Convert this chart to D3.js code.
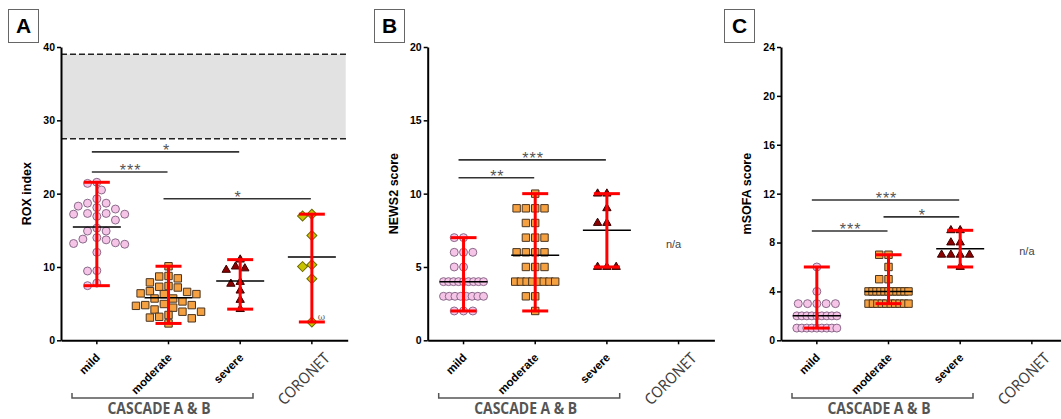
<!DOCTYPE html>
<html>
<head>
<meta charset="utf-8">
<script src="https://cdn.jsdelivr.net/npm/d3@7"></script>
<style>
  body { margin: 0; background: #fff; }
  svg { display: block; font-family: "Liberation Sans", Arial, sans-serif; }
</style>
</head>
<body>
<svg id="chart" width="1061" height="419"></svg>
<script>
const categories = ["mild", "moderate", "severe", "CORONET"];

// A - ROX index
const roxMild = [21.55, 21.4, 20.5, 19.3, 18.7, 18.3, 18.1, 17.9, 18.7, 17.2, 16.9, 17.3, 16.4, 17.2, 17.3,
                 15.3, 14.9, 14.9, 14.0, 13.7, 13.2, 13.3, 13.8, 13.1, 12.0, 9.5, 9.45, 7.8, 7.45];
const roxModerate = [10.1, 8.77, 8.45, 8.7, 7.3, 6.7, 6.6, 7.2, 7.4, 6.3, 7.9, 6.4, 6.3, 5.7, 5.7,
                     4.95, 4.8, 5.3, 4.8, 4.45, 4.7, 3.9, 3.9, 4.2, 3.2, 3.1, 3.0, 3.45, 2.3];
const roxSevere = [11.0, 10.05, 9.6, 9.8, 7.7, 7.95, 6.77, 5.5, 4.25];
const roxCoronet = [16.95, 17.2, 14.3, 10.05, 10.3, 8.4, 2.5];
const roxMedians = [15.45, 5.8, 8.1, 11.35];
const roxTicks = [0, 10, 20, 30, 40];
const roxReference = [27.5, 39];
const roxSig = [
  { a: 0, b: 2, v: 25.7, label: "*" },
  { a: 0, b: 1, v: 22.95, label: "***" },
  { a: 1, b: 3, v: 19.3, label: "*" }
];

// B - NEWS2 score
const newsMild = [7, 7, 6, 6, 6, 5, 5, 4, 4, 4, 4, 4, 4, 4, 4, 4, 3, 3, 3, 3, 3, 3, 3, 3, 2, 2, 2];
const newsModerate = [10, 9, 9, 9, 9, 8, 8, 7, 7, 7, 6, 6, 6, 6, 5, 5, 5, 4, 4, 4, 4, 4, 4, 4, 4, 3, 3, 2];
const newsSevere = [10, 10, 9, 8, 8, 5, 5, 5];
const newsMedians = [4, 5.8, 7.5, null];
const newsTicks = [0, 5, 10, 15, 20];
const newsSig = [
  { a: 0, b: 2, v: 12.3, label: "***" },
  { a: 0, b: 1, v: 11.08, label: "**" }
];

// C - mSOFA score
const sofaMild = [6, 4, 3, 3, 3, 3, 3, 2, 2, 2, 2, 2, 2, 2, 2, 2, 1, 1, 1, 1, 1, 1, 1, 1, 1];
const sofaModerate = [7, 7, 6, 5, 5, 4, 4, 4, 4, 4, 4, 4, 4, 4, 4, 4, 3, 3, 3, 3, 3, 3, 3, 3, 3, 3];
const sofaSevere = [9, 9, 8, 8, 7, 7, 7, 7, 6];
const sofaMedians = [2, 4, 7.5, null];
const sofaTicks = [0, 4, 8, 12, 16, 20, 24];
const sofaSig = [
  { a: 0, b: 2, v: 11.48, label: "***" },
  { a: 1, b: 2, v: 10.1, label: "*" },
  { a: 0, b: 1, v: 8.94, label: "***" }
];

const markers = [
  { type: d3.symbolCircle, size: 50, fill: "#f5c4e6", stroke: "#8a6a8a", rot: 0 },
  { type: d3.symbolSquare, size: 55, fill: "#f5a142", stroke: "#4a3520", rot: 0 },
  { type: d3.symbolTriangle, size: 30, fill: "#8b0000", stroke: "#3a0000", rot: 0 },
  { type: d3.symbolSquare, size: 50, fill: "#c9c400", stroke: "#6e6a00", rot: 45 }
];

const panels = [
  { letter: "A", boxX: 8, left: 61, yLabel: "ROX index", max: 40, ticks: roxTicks,
    groups: [roxMild, roxModerate, roxSevere, roxCoronet], medians: roxMedians, sig: roxSig,
    swarm: true, reference: roxReference, na: null },
  { letter: "B", boxX: 374, left: 427.7, yLabel: "NEWS2 score", max: 20, ticks: newsTicks,
    groups: [newsMild, newsModerate, newsSevere, []], medians: newsMedians, sig: newsSig,
    swarm: false, reference: null, na: 6.3 },
  { letter: "C", boxX: 724, left: 781, yLabel: "mSOFA score", max: 24, ticks: sofaTicks,
    groups: [sofaMild, sofaModerate, sofaSevere, []], medians: sofaMedians, sig: sofaSig,
    swarm: false, reference: null, na: 7.0 }
];

const svg = d3.select("#chart");
svg.append("rect").attr("width", 1061).attr("height", 419).attr("fill", "#fff");

const plotTop = 47, plotBottom = 340.3, span = 286.7;

// beeswarm for continuous values
function swarm(values, y, d = 8.2, step = 4.65) {
  const placed = [];
  const off = new Array(values.length).fill(0);
  const order = d3.range(values.length).sort((a, b) => values[b] - values[a]);
  order.forEach(i => {
    const py = y(values[i]);
    for (let k = 0; k < 24; k++) {
      const dx = (k % 2 ? -1 : 1) * Math.ceil(k / 2) * step;
      if (placed.every(p => Math.hypot(p[0] - dx, p[1] - py) >= d)) {
        off[i] = dx; placed.push([dx, py]); break;
      }
    }
  });
  return off;
}

// row layout for integer scores
function rows(values, maxSpan = 40, step = 9.3) {
  const counts = d3.rollup(values, v => v.length, v => v);
  const seen = new Map();
  return values.map(v => {
    const n = counts.get(v), i = seen.get(v) || 0;
    seen.set(v, i + 1);
    if (n <= 5) return (i - Math.floor(n / 2)) * step;
    return (i - (n - 1) / 2) * (maxSpan / (n - 1));
  });
}

panels.forEach(p => {
  const g = svg.append("g");
  const x = d3.scaleBand().domain(categories).range([p.left, p.left + span]);
  const y = d3.scaleLinear().domain([0, p.max]).range([plotBottom, plotTop]);
  const cx = c => x(c) + x.bandwidth() / 2;

  // panel letter
  g.append("rect").attr("x", p.boxX + 0.5).attr("y", 9.5).attr("width", 30).attr("height", 33)
    .attr("fill", "#fff").attr("stroke", "#666").attr("stroke-width", 1);
  g.append("text").attr("x", p.boxX + 15.5).attr("y", 33).attr("text-anchor", "middle")
    .attr("font-size", 21).attr("font-weight", "bold").text(p.letter);

  // reference band
  if (p.reference) {
    g.append("rect").attr("x", p.left).attr("width", span - 2)
      .attr("y", y(p.reference[1])).attr("height", y(p.reference[0]) - y(p.reference[1]))
      .attr("fill", "#e2e2e2");
    g.selectAll(".ref").data(p.reference).join("line")
      .attr("x1", p.left).attr("x2", p.left + span)
      .attr("y1", d => y(d)).attr("y2", d => y(d))
      .attr("stroke", "#222").attr("stroke-width", 1.5).attr("stroke-dasharray", "6,3");
  }

  // axes
  const ya = g.append("g").attr("transform", `translate(${p.left},0)`)
    .call(d3.axisLeft(y).tickValues(p.ticks).tickSize(4).tickSizeOuter(0).tickPadding(2));
  ya.select(".domain").attr("stroke-width", 2);
  ya.selectAll(".tick line").attr("stroke-width", 1.5);
  ya.selectAll(".tick text").attr("font-size", 10.5).attr("font-weight", "bold")
    .attr("font-family", "Liberation Sans, Arial, sans-serif").attr("fill", "#000");

  const xa = g.append("g").attr("transform", `translate(0,${plotBottom})`)
    .call(d3.axisBottom(x).tickSize(4).tickSizeOuter(0).tickFormat(""));
  xa.select(".domain").attr("stroke-width", 2);
  xa.selectAll(".tick line").attr("stroke-width", 1.5);

  // y label
  g.append("text").attr("transform", `translate(${p.left - 30},${(plotTop + plotBottom) / 2}) rotate(-90)`)
    .attr("text-anchor", "middle").attr("font-size", 12.5).attr("font-weight", "bold").text(p.yLabel);

  // x labels
  g.selectAll(".xl").data(categories.slice(0, 3)).join("text")
    .attr("transform", d => `translate(${cx(d) + 4},${plotBottom + 18}) rotate(-45)`)
    .attr("text-anchor", "end").attr("font-size", 11.5).attr("font-weight", "bold").text(d => d);
  g.append("text")
    .attr("transform", `translate(${cx("CORONET") + 19},${plotBottom + 19}) rotate(-45)`)
    .attr("text-anchor", "end").attr("font-family", "'Noto Sans', 'Open Sans', sans-serif")
    .attr("font-size", 15.5).attr("fill", "#404040").attr("textLength", 66)
    .attr("lengthAdjust", "spacingAndGlyphs").text("CORONET");

  // group bracket
  const bx0 = p.left + 11, bx1 = p.left + 192, by = 398;
  g.append("path").attr("d", `M${bx0},${by - 5}V${by}H${bx1}V${by - 5}`)
    .attr("fill", "none").attr("stroke", "#555").attr("stroke-width", 1.5);
  g.append("text").attr("x", p.left + 98).attr("y", 414).attr("text-anchor", "middle")
    .attr("font-family", "'Open Sans', Lato, sans-serif").attr("font-weight", "bold")
    .attr("font-size", 16).attr("fill", "#555").attr("textLength", 103)
    .attr("lengthAdjust", "spacingAndGlyphs").text("CASCADE A & B");

  // significance
  p.sig.forEach(s => {
    const x1 = cx(categories[s.a]) - 5, x2 = cx(categories[s.b]) - 1;
    g.append("line").attr("x1", x1).attr("x2", x2).attr("y1", y(s.v)).attr("y2", y(s.v))
      .attr("stroke", "#333").attr("stroke-width", 1.6);
    g.append("text").attr("x", (x1 + x2) / 2 + 1).attr("y", y(s.v) + 4).attr("text-anchor", "middle")
      .attr("font-size", 16).attr("letter-spacing", 1).attr("fill", "#555").text(s.label);
  });

  // points
  p.groups.forEach((vals, gi) => {
    if (!vals.length) return;
    const m = markers[gi];
    const offs = p.swarm ? swarm(vals, y) : rows(vals);
    const sym = d3.symbol().type(m.type).size(m.size);
    g.selectAll(null).data(vals).join("path")
      .attr("d", sym)
      .attr("transform", (d, i) => `translate(${cx(categories[gi]) + offs[i]},${y(d)}) rotate(${m.rot})`)
      .attr("fill", m.fill).attr("stroke", m.stroke).attr("stroke-width", 1);
  });

  // median lines
  p.groups.forEach((vals, gi) => {
    if (!vals.length) return;
    const c = cx(categories[gi]);
    g.append("line").attr("x1", c - 24).attr("x2", c + 24)
      .attr("y1", y(p.medians[gi])).attr("y2", y(p.medians[gi]))
      .attr("stroke", "#000").attr("stroke-width", 1.5);
  });

  // range bars
  p.groups.forEach((vals, gi) => {
    if (!vals.length) return;
    const c = cx(categories[gi]);
    const [lo, hi] = d3.extent(vals);
    g.append("line").attr("x1", c).attr("x2", c).attr("y1", y(lo)).attr("y2", y(hi))
      .attr("stroke", "#ff0000").attr("stroke-width", 3);
    g.selectAll(null).data([lo, hi]).join("line")
      .attr("x1", c - 13).attr("x2", c + 13).attr("y1", d => y(d)).attr("y2", d => y(d))
      .attr("stroke", "#ff0000").attr("stroke-width", 3);
  });

  // n/a and footnote marks
  if (p.na !== null) {
    g.append("text").attr("x", cx("CORONET") - 5).attr("y", y(p.na))
      .attr("text-anchor", "middle").attr("font-size", 11).attr("fill", "#444").text("n/a");
  } else {
    g.append("text").attr("x", cx("CORONET") + 6).attr("y", y(d3.min(p.groups[3])) - 2)
      .attr("font-family", "DejaVu Serif, serif").attr("font-size", 9).attr("fill", "#666").text("ω");
  }
});
</script>
</body>
</html>
